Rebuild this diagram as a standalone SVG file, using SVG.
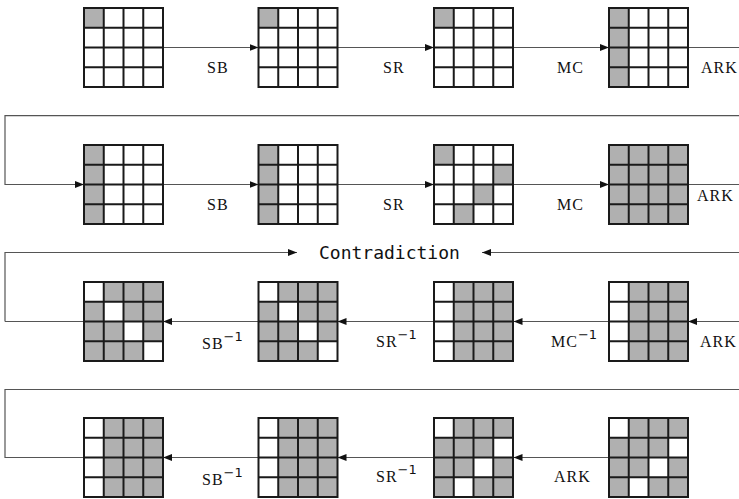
<svg xmlns="http://www.w3.org/2000/svg" xmlns:xlink="http://www.w3.org/1999/xlink" width="739" height="499" viewBox="0 0 739 499">
<style>
.c{fill:#b0b0b0}
.gl{fill:none;stroke:#1a1a1a;stroke-width:2}
.ln{fill:none;stroke:#555;stroke-width:1.2}
.lb{font-family:"Liberation Serif","DejaVu Serif",serif;font-size:16px;fill:#111;letter-spacing:1px}
.sup{font-family:"DejaVu Sans","Liberation Sans",sans-serif;font-size:13px;letter-spacing:0}
.ct{font-family:"DejaVu Sans Mono",monospace;font-size:18px;fill:#111}
</style>
<defs>
<marker id="ah" markerUnits="userSpaceOnUse" markerWidth="10" markerHeight="8" refX="9" refY="3.5" orient="auto">
<path d="M0,0 L9,3.5 L0,7 z" fill="#111"/>
</marker>
<g id="gridlines">
<rect class="gl" x="0" y="0" width="79" height="79"/>
<path class="gl" d="M19.75,0V79M39.5,0V79M59.25,0V79M0,19.75H79M0,39.5H79M0,59.25H79"/>
</g>
</defs>
<rect width="739" height="499" fill="#fff"/>

<g id="connectors">
<path class="ln" d="M163,47.5H258.5" marker-end="url(#ah)"/>
<path class="ln" d="M337.5,47.5H434" marker-end="url(#ah)"/>
<path class="ln" d="M513.5,47.5H609" marker-end="url(#ah)"/>
<path class="ln" d="M688,47.5H739"/>
<path class="ln" d="M739,115.7H5V184.5H84" marker-end="url(#ah)"/>
<path class="ln" d="M163,184.5H258.5" marker-end="url(#ah)"/>
<path class="ln" d="M337.5,184.5H434" marker-end="url(#ah)"/>
<path class="ln" d="M513.5,184.5H609" marker-end="url(#ah)"/>
<path class="ln" d="M688,184.5H739"/>
<path class="ln" d="M5,321.5V252.5H297" marker-end="url(#ah)"/>
<path class="ln" d="M5,321.5H84"/>
<path class="ln" d="M739,252.5H482" marker-end="url(#ah)"/>
<path class="ln" d="M739,321.5H688" marker-end="url(#ah)"/>
<path class="ln" d="M609,321.5H513.5" marker-end="url(#ah)"/>
<path class="ln" d="M434,321.5H337.5" marker-end="url(#ah)"/>
<path class="ln" d="M258.5,321.5H163" marker-end="url(#ah)"/>
<path class="ln" d="M739,389.5H5V457.5H84"/>
<path class="ln" d="M609,457.5H513.5" marker-end="url(#ah)"/>
<path class="ln" d="M434,457.5H337.5" marker-end="url(#ah)"/>
<path class="ln" d="M258.5,457.5H163" marker-end="url(#ah)"/>
</g>

<g id="r1g1" transform="translate(84,8)">
<rect class="c" x="0" y="0" width="19.75" height="19.75"/>
<use xlink:href="#gridlines"/>
</g>
<g id="r1g2" transform="translate(258.5,8)">
<rect class="c" x="0" y="0" width="19.75" height="19.75"/>
<use xlink:href="#gridlines"/>
</g>
<g id="r1g3" transform="translate(434,8)">
<rect class="c" x="0" y="0" width="19.75" height="19.75"/>
<use xlink:href="#gridlines"/>
</g>
<g id="r1g4" transform="translate(609,8)">
<rect class="c" x="0" y="0" width="19.75" height="79"/>
<use xlink:href="#gridlines"/>
</g>

<g id="r2g1" transform="translate(84,145)">
<rect class="c" x="0" y="0" width="19.75" height="79"/>
<use xlink:href="#gridlines"/>
</g>
<g id="r2g2" transform="translate(258.5,145)">
<rect class="c" x="0" y="0" width="19.75" height="79"/>
<use xlink:href="#gridlines"/>
</g>
<g id="r2g3" transform="translate(434,145)">
<rect class="c" x="0" y="0" width="19.75" height="19.75"/>
<rect class="c" x="59.25" y="19.75" width="19.75" height="19.75"/>
<rect class="c" x="39.5" y="39.5" width="19.75" height="19.75"/>
<rect class="c" x="19.75" y="59.25" width="19.75" height="19.75"/>
<use xlink:href="#gridlines"/>
</g>
<g id="r2g4" transform="translate(609,145)">
<rect class="c" x="0" y="0" width="79" height="79"/>
<use xlink:href="#gridlines"/>
</g>

<g id="r3g1" transform="translate(84,282)">
<rect class="c" x="0" y="0" width="79" height="79"/>
<rect fill="#fff" x="0" y="0" width="19.75" height="19.75"/>
<rect fill="#fff" x="19.75" y="19.75" width="19.75" height="19.75"/>
<rect fill="#fff" x="39.5" y="39.5" width="19.75" height="19.75"/>
<rect fill="#fff" x="59.25" y="59.25" width="19.75" height="19.75"/>
<use xlink:href="#gridlines"/>
</g>
<g id="r3g2" transform="translate(258.5,282)">
<rect class="c" x="0" y="0" width="79" height="79"/>
<rect fill="#fff" x="0" y="0" width="19.75" height="19.75"/>
<rect fill="#fff" x="19.75" y="19.75" width="19.75" height="19.75"/>
<rect fill="#fff" x="39.5" y="39.5" width="19.75" height="19.75"/>
<rect fill="#fff" x="59.25" y="59.25" width="19.75" height="19.75"/>
<use xlink:href="#gridlines"/>
</g>
<g id="r3g3" transform="translate(434,282)">
<rect fill="#fff" x="0" y="0" width="79" height="79"/>
<rect class="c" x="19.75" y="0" width="59.25" height="79"/>
<use xlink:href="#gridlines"/>
</g>
<g id="r3g4" transform="translate(609,282)">
<rect fill="#fff" x="0" y="0" width="79" height="79"/>
<rect class="c" x="19.75" y="0" width="59.25" height="79"/>
<use xlink:href="#gridlines"/>
</g>

<g id="r4g1" transform="translate(84,418)">
<rect fill="#fff" x="0" y="0" width="79" height="79"/>
<rect class="c" x="19.75" y="0" width="59.25" height="79"/>
<use xlink:href="#gridlines"/>
</g>
<g id="r4g2" transform="translate(258.5,418)">
<rect fill="#fff" x="0" y="0" width="79" height="79"/>
<rect class="c" x="19.75" y="0" width="59.25" height="79"/>
<use xlink:href="#gridlines"/>
</g>
<g id="r4g3" transform="translate(434,418)">
<rect class="c" x="0" y="0" width="79" height="79"/>
<rect fill="#fff" x="0" y="0" width="19.75" height="19.75"/>
<rect fill="#fff" x="59.25" y="19.75" width="19.75" height="19.75"/>
<rect fill="#fff" x="39.5" y="39.5" width="19.75" height="19.75"/>
<rect fill="#fff" x="19.75" y="59.25" width="19.75" height="19.75"/>
<use xlink:href="#gridlines"/>
</g>
<g id="r4g4" transform="translate(609,418)">
<rect class="c" x="0" y="0" width="79" height="79"/>
<rect fill="#fff" x="0" y="0" width="19.75" height="19.75"/>
<rect fill="#fff" x="59.25" y="19.75" width="19.75" height="19.75"/>
<rect fill="#fff" x="39.5" y="39.5" width="19.75" height="19.75"/>
<rect fill="#fff" x="19.75" y="59.25" width="19.75" height="19.75"/>
<use xlink:href="#gridlines"/>
</g>

<g id="labels">
<text class="lb" x="207" y="73">SB</text>
<text class="lb" x="383" y="73">SR</text>
<text class="lb" x="557" y="73">MC</text>
<text class="lb" x="701" y="73">ARK</text>

<text class="lb" x="207" y="210">SB</text>
<text class="lb" x="383" y="210">SR</text>
<text class="lb" x="557" y="210">MC</text>
<text class="lb" x="697" y="201">ARK</text>

<text class="ct" x="319" y="258.5">Contradiction</text>

<text class="lb" x="202" y="349">SB<tspan class="sup" dy="-8">−1</tspan></text>
<text class="lb" x="376" y="347">SR<tspan class="sup" dy="-8">−1</tspan></text>
<text class="lb" x="551" y="347">MC<tspan class="sup" dy="-8">−1</tspan></text>
<text class="lb" x="700" y="347">ARK</text>

<text class="lb" x="202" y="485">SB<tspan class="sup" dy="-8">−1</tspan></text>
<text class="lb" x="376" y="482">SR<tspan class="sup" dy="-8">−1</tspan></text>
<text class="lb" x="554" y="482">ARK</text>
</g>
</svg>
